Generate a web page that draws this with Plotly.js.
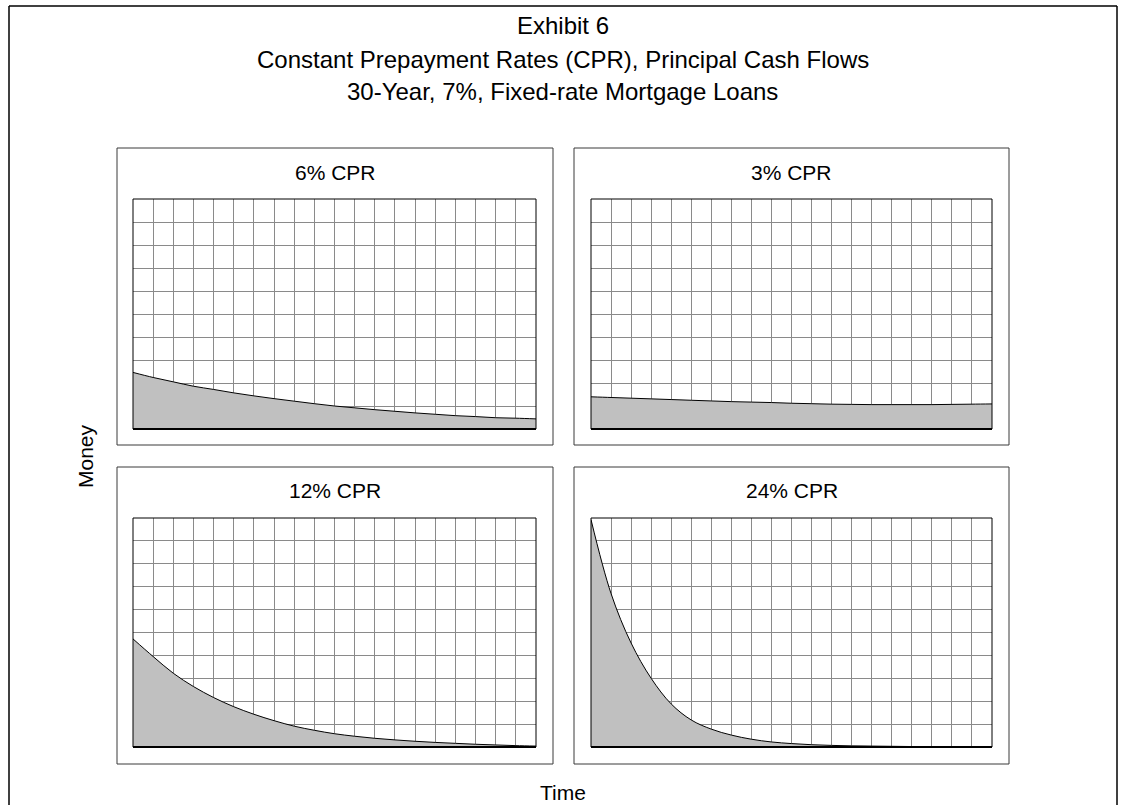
<!DOCTYPE html>
<html>
<head>
<meta charset="utf-8">
<script src="https://cdn.plot.ly/plotly-3.0.1.min.js"></script>
<style>html,body{margin:0;padding:0;background:#fff;}#chart{width:1122px;height:805px;}</style>
</head>
<body>
<div id="chart"></div>
<script>
// ---- data ----
const titleLines = ["Exhibit 6", "Constant Prepayment Rates (CPR), Principal Cash Flows", "30-Year, 7%, Fixed-rate Mortgage Loans"];
const panelTitles = ["6% CPR", "3% CPR", "12% CPR", "24% CPR"];
const timeSteps = [0,1,2,3,4,5,6,7,8,9,10,11,12,13,14,15,16,17,18,19,20];
const cpr6  = [2.46,2.24,2.05,1.86,1.72,1.57,1.44,1.32,1.21,1.10,1.00,0.92,0.84,0.77,0.70,0.64,0.58,0.54,0.49,0.47,0.44];
const cpr3  = [1.40,1.37,1.34,1.31,1.28,1.25,1.22,1.19,1.17,1.15,1.12,1.10,1.08,1.07,1.06,1.06,1.06,1.06,1.07,1.08,1.09];
const cpr12 = [4.72,3.95,3.22,2.64,2.16,1.76,1.43,1.15,0.91,0.73,0.58,0.47,0.38,0.31,0.25,0.20,0.16,0.12,0.09,0.06,0.04];
const cpr24 = [9.93,6.70,4.54,3.00,1.88,1.18,0.78,0.52,0.34,0.22,0.15,0.10,0.07,0.05,0.04,0.03,0.02,0.02,0.01,0.01,0.01];
const xLabel = "Time";
const yLabel = "Money";
// ---------------------------------------

const W = 1122, H = 805;
const FONT = 'Arial, "Liberation Sans", sans-serif';
const series = [cpr6, cpr3, cpr12, cpr24];

// layout geometry (pixels)
const plotX = [[133, 536], [591, 992]];
const plotY = [[199, 429], [518, 747]];
const boxX = [[117, 553], [574, 1009]];
const boxY = [[148, 445], [467, 764]];
const titleY = [25.5, 59, 91.5];
const px = v => v / W;
const py = v => 1 - v / H;

const traces = [];
const layout = {
  width: W, height: H,
  margin: {l: 0, r: 0, t: 0, b: 0},
  paper_bgcolor: '#ffffff', plot_bgcolor: '#ffffff',
  showlegend: false,
  font: {family: FONT, color: '#000000', size: 21},
  shapes: [], annotations: []
};

// title, one line per annotation for exact line spacing
titleLines.forEach((t, k) => {
  layout.annotations.push({text: t, xref: 'paper', yref: 'paper',
    x: px(562.5), y: py(titleY[k]), xanchor: 'center', yanchor: 'middle',
    showarrow: false, font: {family: FONT, size: 24, color: '#000'}});
});

// outer frame (bottom edge lies outside the picture)
layout.shapes.push({type: 'line', xref: 'paper', yref: 'paper', x0: px(9), x1: px(1117), y0: py(6), y1: py(6), line: {color: '#000', width: 1.5}});
layout.shapes.push({type: 'line', xref: 'paper', yref: 'paper', x0: px(9), x1: px(9), y0: py(6), y1: py(805), line: {color: '#000', width: 1.5}});
layout.shapes.push({type: 'line', xref: 'paper', yref: 'paper', x0: px(1117), x1: px(1117), y0: py(6), y1: py(805), line: {color: '#000', width: 1.5}});

for (let i = 0; i < 4; i++) {
  const col = i % 2, row = Math.floor(i / 2);
  const n = i === 0 ? '' : String(i + 1);
  const xa = 'xaxis' + n, ya = 'yaxis' + n;
  const xr = 'x' + n, yr = 'y' + n;
  layout[xa] = {
    domain: [px(plotX[col][0]), px(plotX[col][1])],
    range: [0, 20], dtick: 1, tick0: 0,
    showticklabels: false, ticks: '',
    showgrid: true, gridcolor: '#8a8a8a', gridwidth: 1,
    zeroline: false, showline: false, anchor: yr, fixedrange: true
  };
  layout[ya] = {
    domain: [py(plotY[row][1]), py(plotY[row][0])],
    range: [0, 10], dtick: 1, tick0: 0,
    showticklabels: false, ticks: '',
    showgrid: true, gridcolor: '#8a8a8a', gridwidth: 1,
    zeroline: false, showline: false, anchor: xr, fixedrange: true
  };
  traces.push({
    type: 'scatter', mode: 'lines', x: timeSteps, y: series[i],
    xaxis: xr, yaxis: yr,
    line: {color: '#000000', width: 1, shape: 'spline', smoothing: 1},
    fill: 'tozeroy', fillcolor: '#c0c0c0', hoverinfo: 'skip'
  });
  // panel box
  layout.shapes.push({type: 'rect', xref: 'paper', yref: 'paper',
    x0: px(boxX[col][0]), x1: px(boxX[col][1]), y0: py(boxY[row][1]), y1: py(boxY[row][0]),
    line: {color: '#3a3a3a', width: 1}, layer: 'below'});
  // plot border
  layout.shapes.push({type: 'rect', xref: xr + ' domain', yref: yr + ' domain',
    x0: 0, x1: 1, y0: 0, y1: 1, line: {color: '#000', width: 1}, layer: 'above'});
  layout.shapes.push({type: 'line', xref: xr + ' domain', yref: yr + ' domain',
    x0: 0, x1: 1, y0: 0, y1: 0, line: {color: '#000', width: 2}, layer: 'above'});
  // panel title
  layout.annotations.push({text: panelTitles[i], xref: 'paper', yref: 'paper',
    x: px((boxX[col][0] + boxX[col][1]) / 2), y: py(boxY[row][0] + 24),
    xanchor: 'center', yanchor: 'middle', showarrow: false,
    font: {family: FONT, size: 21, color: '#000'}});
}

// axis labels for the whole figure
layout.annotations.push({text: xLabel, xref: 'paper', yref: 'paper', x: px(563), y: py(792),
  xanchor: 'center', yanchor: 'middle', showarrow: false, font: {family: FONT, size: 21, color: '#000'}});
layout.annotations.push({text: yLabel, xref: 'paper', yref: 'paper', x: px(85), y: py(456),
  xanchor: 'center', yanchor: 'middle', textangle: -90, showarrow: false, font: {family: FONT, size: 21, color: '#000'}});

Plotly.newPlot('chart', traces, layout, {displayModeBar: false, staticPlot: true});
</script>
</body>
</html>
